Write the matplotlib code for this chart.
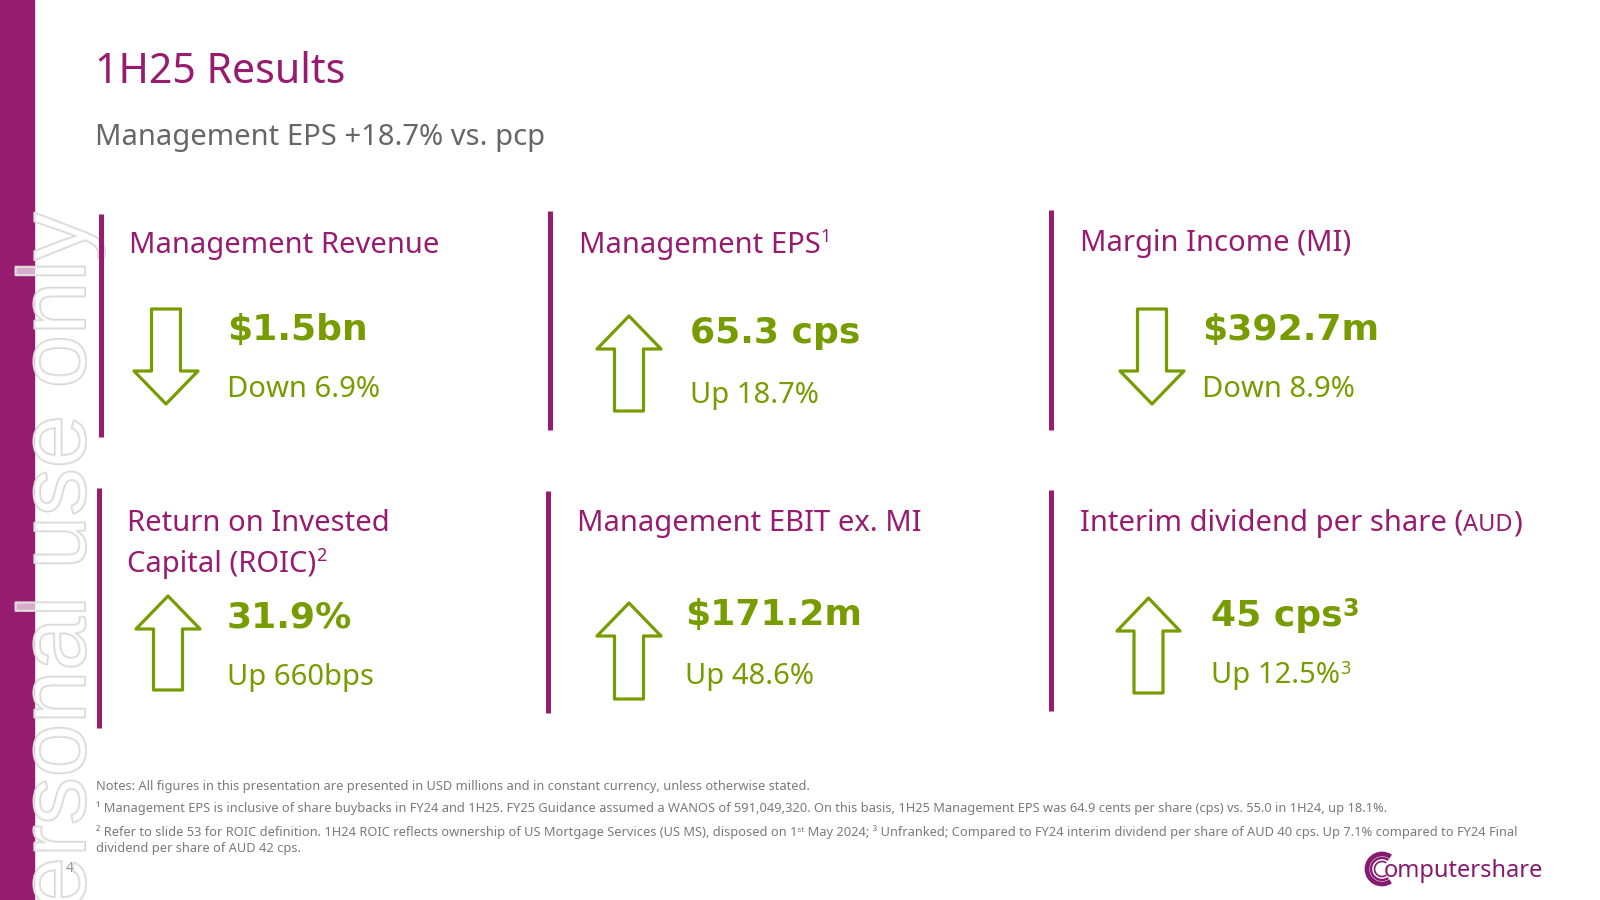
import matplotlib
matplotlib.use("Agg")
import matplotlib.pyplot as plt
from matplotlib.patches import Rectangle, Polygon, Arc
from matplotlib import patheffects as pe
from matplotlib import font_manager

# ---------------- data ----------------
page_title = "1H25 Results"
page_subtitle = "Management EPS +18.7% vs. pcp"
metric_titles = ["Management Revenue", "Management EPS", "Margin Income (MI)",
                 "Return on Invested\nCapital (ROIC)", "Management EBIT ex. MI",
                 "Interim dividend per share ("]
title_sups = ["", "1", "", "2", "", ""]
title_tails = ["", "", "", "", "", ")"]
title_small = ["", "", "", "", "", "AUD"]
metric_values = ["$1.5bn", "65.3 cps", "$392.7m", "31.9%", "$171.2m", "45 cps"]
value_sups = ["", "", "", "", "", "3"]
metric_changes = ["Down 6.9%", "Up 18.7%", "Down 8.9%", "Up 660bps", "Up 48.6%", "Up 12.5%"]
change_sups = ["", "", "", "", "", "3"]
directions = ["down", "up", "down", "up", "up", "up"]
footnotes = [
    "Notes: All figures in this presentation are presented in USD millions and in constant currency, unless otherwise stated.",
    "\u00b9 Management EPS is inclusive of share buybacks in FY24 and 1H25. FY25 Guidance assumed a WANOS of 591,049,320. On this basis, 1H25 Management EPS was 64.9 cents per share (cps) vs. 55.0 in 1H24, up 18.1%.",
    "\u00b2 Refer to slide 53 for ROIC definition. 1H24 ROIC reflects ownership of US Mortgage Services (US MS), disposed on 1\u02e2\u1d57 May 2024; \u00b3 Unfranked; Compared to FY24 interim dividend per share of AUD 40 cps. Up 7.1% compared to FY24 Final",
    "dividend per share of AUD 42 cps.",
]
watermark = "personal use only"
page_number = "4"
logo_text = "omputershare"

# ---------------- style ----------------
PURPLE = "#971B6F"
LOGO_PURPLE = "#861A70"
GREEN = "#779C00"
GRAY = "#666666"
NOTE_GRAY = "#7A7A7A"

names = {f.name for f in font_manager.fontManager.ttflist}
MAIN = "Noto Sans" if "Noto Sans" in names else "DejaVu Sans"
WM = "Liberation Sans" if "Liberation Sans" in names else "DejaVu Sans"
FAM = [MAIN, "DejaVu Sans"]
BOLDFAM = ["DejaVu Sans"]

fig = plt.figure(figsize=(16, 9), dpi=100)
ax = fig.add_axes([0, 0, 1, 1])
ax.set_xlim(0, 1600)
ax.set_ylim(900, 0)
ax.axis("off")
renderer = fig.canvas.get_renderer()

# left band + watermark
ax.add_patch(Rectangle((0, 0), 34, 900, color=PURPLE, zorder=1))
ax.text(85, 212, watermark, rotation=90, rotation_mode="anchor", ha="right", va="baseline",
        fontsize=69, family=[WM, "DejaVu Sans"], color=(1, 1, 1, 0.4), zorder=2,
        path_effects=[pe.withStroke(linewidth=1.5, foreground="#d6d6d6")])

# titles
ax.text(95, 83, page_title, fontsize=29.5, color=PURPLE, family=FAM, va="baseline")
ax.text(95, 145, page_subtitle, fontsize=21, color=GRAY, family=FAM, va="baseline")


def runs(x, y, items):
    for s, kw, dy in items:
        if not s:
            continue
        t = ax.text(x, y - dy, s, ha="left", va="baseline", zorder=4, **kw)
        x += t.get_window_extent(renderer).width
    return x


# layout
line_x = [101, 550, 1051, 99, 548, 1051]
line_y = [(214, 437), (211, 430), (210, 430), (488, 728), (491, 713), (490, 711)]
title_xy = [(129, 253), (579, 253), (1080, 251), (127, 531), (577, 531), (1080, 531)]
value_xy = [(227, 340), (690, 343), (1202, 340), (227, 628), (685, 625), (1211, 626)]
change_y = [397, 403, 397, 685, 684, 683]
arrow_box = [(134, 309, 64, 95), (597, 316, 64, 95), (1120, 309, 64, 95),
             (136, 596, 64, 94), (597, 603, 64, 96), (1117, 598, 63, 95)]

title_kw = dict(fontsize=21, color=PURPLE, family=FAM)
sup_kw = dict(fontsize=13, color=PURPLE, family=FAM)
val_kw = dict(fontsize=26, color=GREEN, family=BOLDFAM, fontweight="bold")
vsup_kw = dict(fontsize=17, color=GREEN, family=BOLDFAM, fontweight="bold")
chg_kw = dict(fontsize=21, color=GREEN, family=FAM)
csup_kw = dict(fontsize=13, color=GREEN, family=FAM)

for i in range(6):
    ax.plot([line_x[i], line_x[i]], line_y[i], color=PURPLE, lw=3.6, solid_capstyle="butt", zorder=3)
    tx, ty = title_xy[i]
    lines = metric_titles[i].split("\n")
    for j, ln in enumerate(lines):
        yy = ty + j * 41
        if j < len(lines) - 1:
            runs(tx, yy, [(ln, title_kw, 0)])
        else:
            runs(tx, yy, [(ln, title_kw, 0), (title_small[i], dict(title_kw, fontsize=17), 0),
                          (title_tails[i], title_kw, 0), (title_sups[i], sup_kw, 11)])
    vx, vy = value_xy[i]
    runs(vx, vy, [(metric_values[i], val_kw, 0), (value_sups[i], vsup_kw, 10)])
    runs(vx, change_y[i], [(metric_changes[i], chg_kw, 0), (change_sups[i], csup_kw, 9)])

    # arrow outline
    x0, y0, w, h = arrow_box[i]
    sw = 29
    hh = 33
    cx = x0 + w / 2
    if directions[i] == "up":
        pts = [(cx, y0), (x0 + w, y0 + hh), (cx + sw / 2, y0 + hh), (cx + sw / 2, y0 + h),
               (cx - sw / 2, y0 + h), (cx - sw / 2, y0 + hh), (x0, y0 + hh)]
    else:
        yb = y0 + h
        pts = [(cx, yb), (x0 + w, yb - hh), (cx + sw / 2, yb - hh), (cx + sw / 2, y0),
               (cx - sw / 2, y0), (cx - sw / 2, yb - hh), (x0, yb - hh)]
    ax.add_patch(Polygon(pts, closed=True, facecolor="none", edgecolor=GREEN, lw=2.3,
                         joinstyle="round", zorder=4))

# footnotes
note_y = [790, 812, 836, 852]
for s, yy in zip(footnotes, note_y):
    ax.text(96, yy, s, fontsize=9.25, color=NOTE_GRAY, family=FAM, va="baseline", zorder=4)

ax.text(70, 869, page_number, fontsize=10, color="#9a9a9a", family=FAM, va="center",
        ha="center", zorder=4)

# logo
for r, lw in [(15, 3.4), (11, 1.7), (7.5, 1.2)]:
    ax.add_patch(Arc((1382, 869), 2 * r, 2 * r, theta1=55, theta2=305, color=LOGO_PURPLE, lw=lw, zorder=4))
ax.text(1384, 877, logo_text, fontsize=17, color=LOGO_PURPLE, family=FAM, fontweight="heavy",
        va="baseline", zorder=4)

fig.savefig("out.png", dpi=100)
